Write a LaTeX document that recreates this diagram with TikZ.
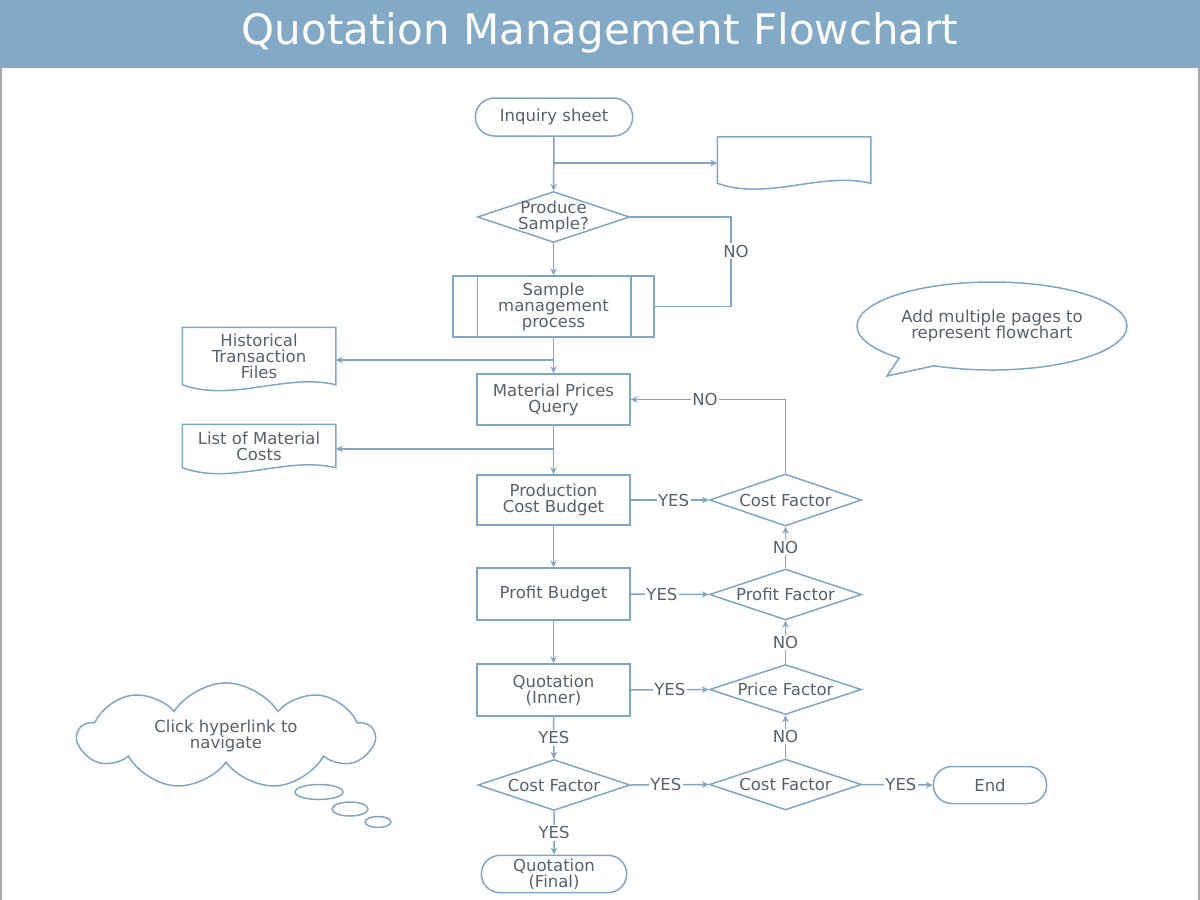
\documentclass[tikz,border=0pt]{standalone}
\usepackage{fontspec}
\setmainfont{DejaVu Sans}
\usetikzlibrary{arrows.meta,shapes.geometric,shapes.misc,shapes.symbols,shapes.callouts}
\definecolor{lineblue}{HTML}{7FA6C6}
\definecolor{barblue}{HTML}{82A9C5}
\definecolor{txtgray}{HTML}{56616C}
\definecolor{framegray}{HTML}{A8A8A8}

\tikzset{
  box/.style={draw=lineblue, line width=1.5pt, text=txtgray, align=center, font=\fontsize{16.5}{16}\selectfont},
  proc/.style={box, rectangle, minimum width=153pt, minimum height=51pt},
  term/.style={box, rounded rectangle, minimum width=152pt, minimum height=37pt},
  dec/.style={box, diamond, aspect=3, inner sep=0pt, minimum width=152pt, minimum height=51pt},
  docu/.style={box, draw=none, rectangle, minimum width=152pt},
  plain/.style={draw=lineblue, line width=1.5pt},
  flow/.style={plain, -{Stealth[length=7pt,width=6.5pt]}},
  lbl/.style={fill=white, text=txtgray, inner sep=1.5pt, font=\fontsize{16.5}{16}\selectfont},
}

% document symbol with a wavy bottom edge
\newcommand{\docborder}[1]{%
  \draw[plain] (#1.south west) .. controls +(50,18) and +(-50,-12) .. (#1.south east)
    -- (#1.north east) -- (#1.north west) -- cycle;}

\begin{document}
\begin{tikzpicture}[x=1pt,y=-1pt]
\useasboundingbox (0,0) rectangle (1200,900);

% title bar and frame
\fill[barblue] (0,0) rectangle (1200,68);
\node[text=white, font=\fontsize{42}{42}\selectfont] (title) at (600,33) {Quotation Management Flowchart};
\draw[framegray, line width=2pt] (1,68) -- (1,900) (1199,68) -- (1199,900);

% main column
\node[term, minimum width=164pt, minimum height=38pt] (inq) at (554,117) {Inquiry sheet};
\node[docu, minimum height=45pt] (blank) at (794,160) {};
\docborder{blank}
\node[dec, inner sep=-8pt] (ps) at (553.5,217) {Produce\\Sample?};
\node[proc, minimum width=201pt, minimum height=61pt] (smp) at (553.5,306.5) {Sample\\management\\process};
\draw[plain] ([xshift=25pt]smp.north west) -- ([xshift=25pt]smp.south west);
\draw[plain] ([xshift=-24pt]smp.north east) -- ([xshift=-24pt]smp.south east);
\node[docu, minimum height=56pt] (hist) at (259,356) {Historical\\Transaction\\Files};
\docborder{hist}
\node[proc] (mpq) at (553.5,399.5) {Material Prices\\Query};
\node[docu, minimum height=42pt] (cost) at (259,446) {List of Material\\Costs};
\docborder{cost}
\node[proc, minimum height=50pt] (pcb) at (553.5,500) {Production\\Cost Budget};
\node[proc, minimum height=52pt] (pb) at (553.5,594) {Profit Budget};
\node[proc, minimum height=52pt] (qin) at (553.5,690) {Quotation\\(Inner)};
\node[dec] (cfa) at (554,785) {Cost Factor};
\node[term, minimum height=36pt] (qfin) at (554,874) {Quotation\\(Final)};

% right column
\node[dec, minimum height=52pt] (cfb) at (785.5,500) {Cost Factor};
\node[dec] (prf) at (785.5,594.5) {Profit Factor};
\node[dec, minimum height=50pt] (prc) at (785.5,689.5) {Price Factor};
\node[dec] (cfc) at (785.5,784.5) {Cost Factor};
\node[term, minimum width=120pt] (end) at (990,785) {End};

% callouts
\node[box, ellipse callout, callout absolute pointer={(887,376)}, callout pointer arc=18,
  minimum width=270pt, minimum height=88pt] (note) at (992,326) {Add multiple pages to\\represent flowchart};
\node[box, cloud, cloud puffs=9, cloud puff arc=115, aspect=3,
  minimum width=295pt, minimum height=98pt] (cloud) at (226,736) {Click hyperlink to\\navigate};
\draw[plain] (319,792) ellipse [x radius=24, y radius=7.5];
\draw[plain] (350,809) ellipse [x radius=18, y radius=7];
\draw[plain] (378,822) ellipse [x radius=13, y radius=5.5];

% connectors
\coordinate (b1) at (554,163);
\coordinate (b2) at (554,360);
\coordinate (b3) at (554,449);
\coordinate (noc) at (731,217);
\draw[flow] (inq) -- (ps);
\draw[flow] (b1) -- (b1 -| blank.west);
\draw[flow] (ps) -- (smp);
\draw[plain] (ps.east) -- (noc) |- (smp.east);
\node[lbl] (nolbl) at (736,251) {NO};
\draw[flow] (smp) -- (mpq);
\draw[flow] (b2) -- (b2 -| hist.east);
\draw[flow] (mpq) -- (pcb);
\draw[flow] (b3) -- (b3 -| cost.east);
\draw[flow] (pcb) -- (pb);
\draw[flow] (pb) -- (qin);
\draw[flow] (qin) -- node[lbl]{YES} (cfa);
\draw[flow] (cfa) -- node[lbl]{YES} (qfin);
\draw[flow] (pcb.east) -- node[lbl, pos=0.55]{YES} (cfb.west);
\draw[flow] (pb.east) -- node[lbl, pos=0.4]{YES} (prf.west);
\draw[flow] (qin.east) -- node[lbl, pos=0.5]{YES} (prc.west);
\draw[flow] (cfa.east) -- node[lbl, pos=0.45]{YES} (cfc.west);
\draw[flow] (cfc.east) -- node[lbl, pos=0.55]{YES} (end.west);
\draw[flow] (cfc.north) -- node[lbl]{NO} (prc.south);
\draw[flow] (prc.north) -- node[lbl]{NO} (prf.south);
\draw[flow] (prf.north) -- node[lbl]{NO} (cfb.south);
\draw[flow] (cfb.north) |- node[lbl, pos=0.76]{NO} (mpq.east);
\end{tikzpicture}
\end{document}
